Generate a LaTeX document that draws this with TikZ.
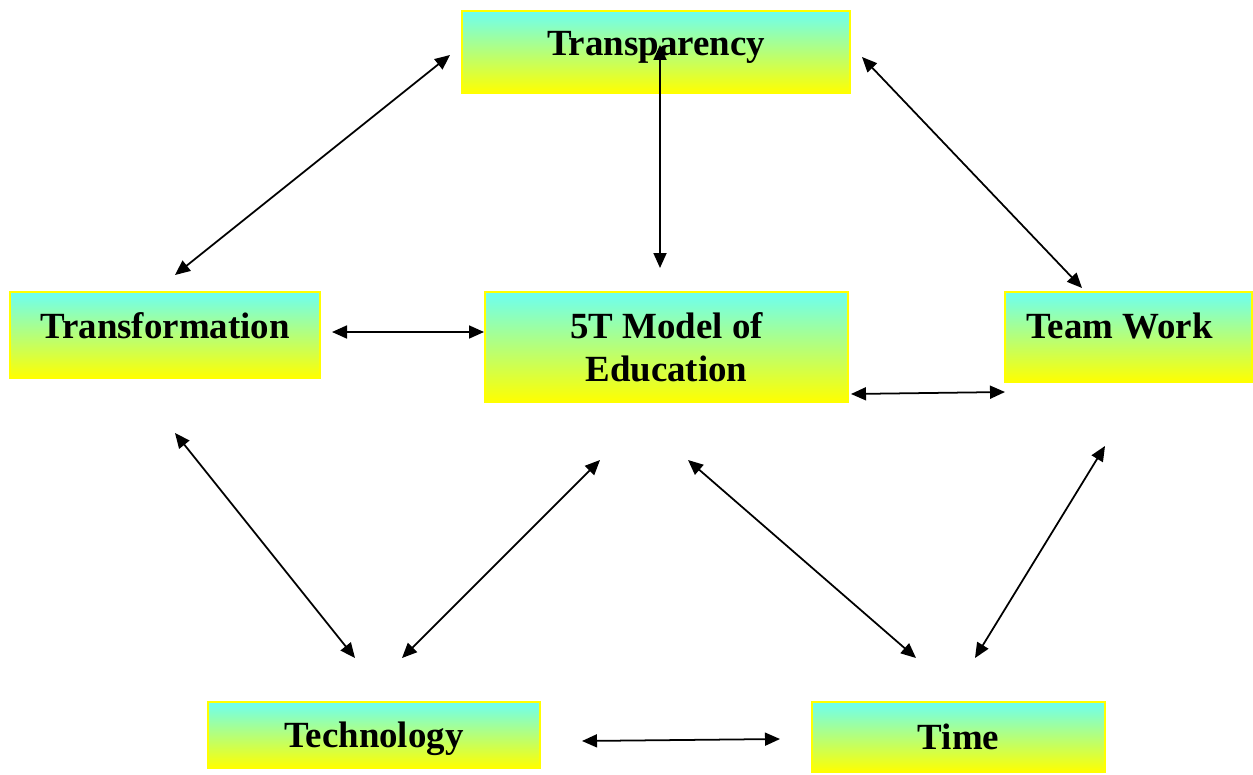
\documentclass[tikz,border=0pt]{standalone}
\usepackage{fontspec}
\setmainfont{Liberation Serif}
\usepackage{tikz}
\usetikzlibrary{arrows.meta,positioning,calc}
\definecolor{TOPCYAN}{RGB}{108,255,242}
\definecolor{BOTYELLOW}{RGB}{255,255,0}
\tikzstyle{BOX} = [rectangle, draw=BOTYELLOW, line width=0.8pt, top color=TOPCYAN, bottom color=BOTYELLOW, inner sep=0pt, align=center, font=\fontsize{21}{24.5}\selectfont\bfseries]
\tikzstyle{RAISED} = [text height=14pt, text depth=10pt]
\tikzstyle{ARROW} = [line width=1pt, {Triangle[length=3mm,width=2.6mm]}-{Triangle[length=3mm,width=2.6mm]}]

\begin{document}
\begin{tikzpicture}[x=0.02cm, y=-0.02cm]
\useasboundingbox (0,0) rectangle (1253,774);
% Place node
\node [BOX, RAISED, minimum width=7.76cm, minimum height=1.64cm] (TRANSPARENCY) at (656,52) {Transparency};
\node [BOX, RAISED, minimum width=6.2cm, minimum height=1.72cm] (TRANSFORMATION) at (165,335) {Transformation};
\node [BOX, minimum width=7.26cm, minimum height=2.2cm] (MODEL) at (666.5,347) {5T Model of\\ Education};
\node [BOX, RAISED, text depth=12pt, minimum width=4.94cm, minimum height=1.8cm] (TEAMWORK) at (1128.5,337) {Team Work\hspace{10pt}};
\node [BOX, text height=14pt, text depth=0pt, minimum width=6.64cm, minimum height=1.32cm] (TECHNOLOGY) at (374,735) {Technology};
\node [BOX, minimum width=5.86cm, minimum height=1.4cm] (TIME) at (958.5,737) {Time};
% Arrow ends
\coordinate (TP_L) at (450,55);    \coordinate (TF_T) at (175,275);
\coordinate (TP_B) at (660,45);    \coordinate (MO_T) at (660,268);
\coordinate (TP_R) at (862,57);    \coordinate (TW_T) at (1082,288);
\coordinate (TF_R) at (332,332);   \coordinate (MO_L) at (484,332);
\coordinate (MO_R) at (851,394);   \coordinate (TW_L) at (1005,392);
\coordinate (TF_B) at (175,433);   \coordinate (TE_L) at (355,658);
\coordinate (MO_BL) at (600,460);  \coordinate (TE_R) at (402,658);
\coordinate (MO_BR) at (688,460);  \coordinate (TI_L) at (916,658);
\coordinate (TW_B) at (1105,446);  \coordinate (TI_R) at (975,658);
\coordinate (TE_E) at (582,741);   \coordinate (TI_W) at (780,739);
% LINES and ARROWS
\draw [ARROW] (TP_L) -- (TF_T);
\draw [ARROW] (MO_T) -- (TP_B);
\draw [ARROW] (TP_R) -- (TW_T);
\draw [ARROW] (TF_R) -- (MO_L);
\draw [ARROW] (MO_R) -- (TW_L);
\draw [ARROW] (TF_B) -- (TE_L);
\draw [ARROW] (MO_BL) -- (TE_R);
\draw [ARROW] (MO_BR) -- (TI_L);
\draw [ARROW] (TW_B) -- (TI_R);
\draw [ARROW] (TE_E) -- (TI_W);
\end{tikzpicture}
\end{document}
